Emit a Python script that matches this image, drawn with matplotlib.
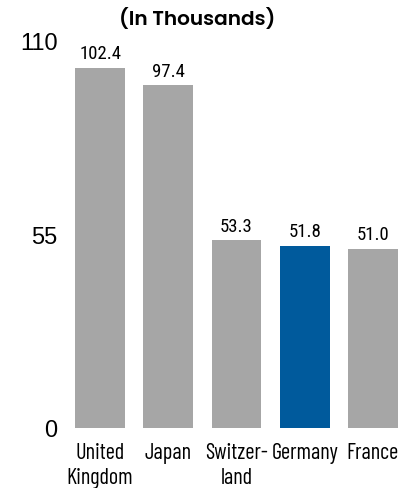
import matplotlib
matplotlib.use("Agg")
import matplotlib.pyplot as plt
import numpy as np

countries = ["United\nKingdom", "Japan", "Switzer-\nland", "Germany", "France"]
values = [102.4, 97.4, 53.3, 51.8, 51.0]
colors = ["#a6a6a6", "#a6a6a6", "#a6a6a6", "#005a9c", "#a6a6a6"]
yticks = [0, 55, 110]

W, H = 409, 489
fig = plt.figure(figsize=(W / 100, H / 100), dpi=100)
# axes in pixel coords: left 66, right 407, bottom y=429, top y=42
ax = fig.add_axes([66 / W, (H - 429) / H, 341 / W, 387 / H])

x = np.arange(len(countries))
ax.bar(x, values, width=0.73, color=colors)

for xi, v in zip(x, values):
    ax.text(xi, v + 1.5, f"{v:.1f}", ha="center", va="bottom",
            fontsize=13.5, family="Roboto Condensed", color="black")

ax.set_xlim(-0.5, 4.5)
ax.set_ylim(0, 110)
ax.set_yticks(yticks)
ax.set_yticklabels([str(t) for t in yticks], family="Liberation Sans", fontsize=17)
ax.set_xticks(x)
ax.set_xticklabels(countries, family="Barlow Condensed", fontsize=16, linespacing=1.25)
ax.tick_params(length=0)
ax.tick_params(axis="y", pad=6)
ax.tick_params(axis="x", pad=10)
for s in ax.spines.values():
    s.set_visible(False)

fig.text(197 / W, 1 - 19 / H, "(In Thousands)", ha="center", va="center",
         fontsize=14.5, family=["Poppins", "Jost"], fontweight="semibold")

fig.savefig("out.png", dpi=100)
